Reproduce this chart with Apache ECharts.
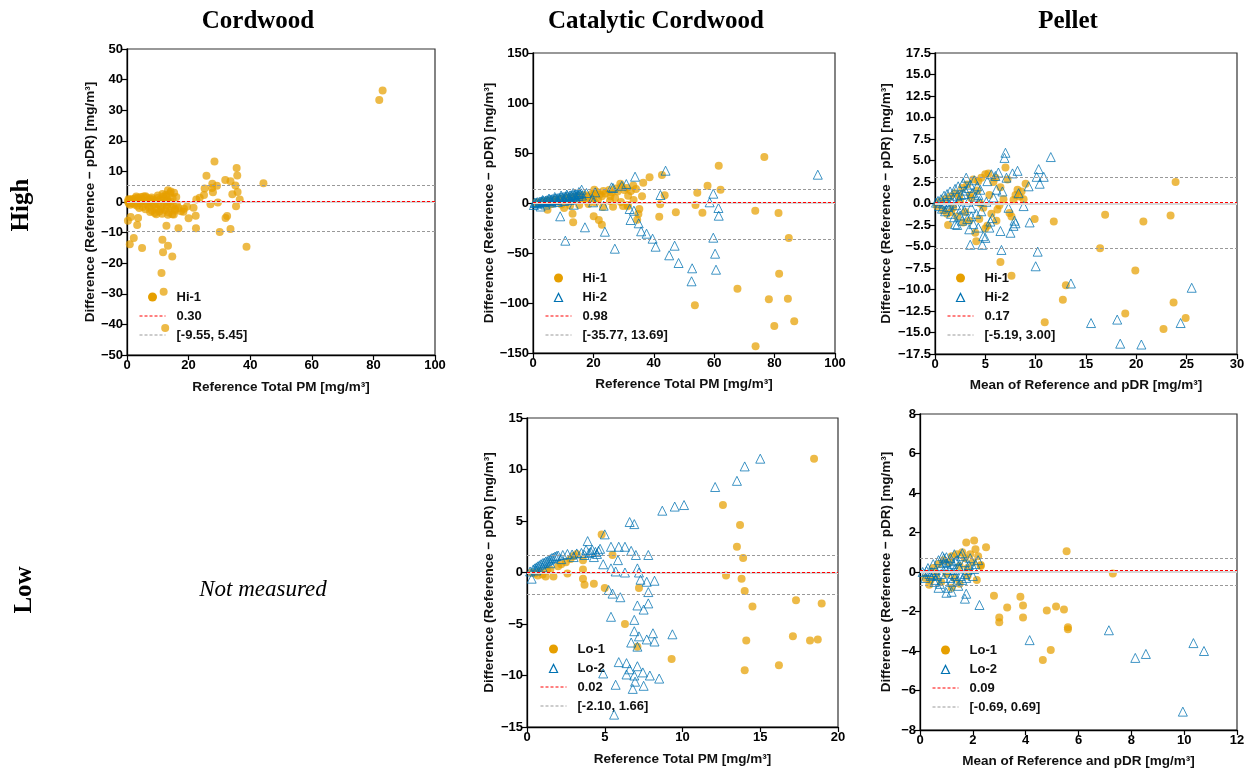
<!DOCTYPE html>
<html>
<head>
<meta charset="utf-8">
<script src="https://cdn.jsdelivr.net/npm/echarts@6/dist/echarts.min.js"></script>
<style>
  html, body { margin: 0; padding: 0; background: #fff; }
  #chart { width: 1252px; height: 772px; }
</style>
</head>
<body>
<div id="chart"></div>
<script>
// column / row titles
const colTitles = ["Cordwood", "Catalytic Cordwood", "Pellet"];
const rowTitles = ["High", "Low"];

// [x, difference] pairs
const cordHighHi1 = [
  [83.0, 36.4], [81.9, 33.3], [44.3, 6.1], [28.4, 13.2], [35.6, 11.1], [35.8, 8.7], [25.8, 8.6],
  [31.9, 7.2], [33.6, 6.8], [35.2, 5.4], [27.7, 6.0], [29.2, 5.3], [27.6, 4.6], [25.2, 4.4],
  [27.9, 3.2], [35.9, 3.3], [34.2, 2.5], [36.6, 0.8], [25.0, 2.3], [23.6, 1.4], [22.5, 0.8],
  [27.1, -0.7], [29.5, -0.2], [35.4, -1.4], [32.5, -4.6], [32.0, -5.2], [33.6, -8.8], [30.1, -9.8],
  [38.8, -14.6], [22.3, -4.5], [22.4, -8.6], [20.0, -5.3], [19.5, -1.5], [21.6, -1.9], [18.3, -3.2],
  [16.7, -8.6], [13.3, -0.1], [14.7, -4.0], [12.8, 1.9], [14.2, 3.4], [13.3, 3.8], [15.3, 3.0],
  [16.0, 1.6], [15.6, -2.3], [14.9, -1.1], [13.3, -4.2], [12.8, -7.8], [13.3, -14.3], [11.5, -12.3],
  [11.7, -16.4], [14.7, -17.8], [11.2, -23.2], [11.9, -29.3], [12.4, -41.2], [0.3, -6.1], [1.2, -4.9],
  [0.9, -13.8], [2.2, -11.8], [3.6, -5.2], [3.3, -7.5], [4.9, -15.0],
  [0.3, 0.2], [0.6, -0.5], [0.9, 0.8], [1.2, 0.4], [1.5, -0.2], [1.8, 1.0], [2.1, 0.6], [2.4, -0.8],
  [2.7, 1.2], [3.0, 0.3], [3.3, -1.2], [3.6, 1.4], [3.9, 0.7], [4.2, -0.4], [4.5, 1.6], [4.8, 0.9],
  [5.1, -1.6], [5.4, 1.8], [5.7, 0.2], [6.0, -2.4], [6.3, 1.5], [6.6, -0.9], [6.9, 0.6], [7.2, -1.8],
  [7.5, 1.1], [7.8, -0.3], [8.1, -2.9], [8.4, 0.8], [8.7, -1.1], [9.0, -3.6], [9.3, 0.4], [9.6, -2.2],
  [9.9, 1.3], [10.2, -0.7], [10.5, -3.1], [10.8, 0.9], [11.1, -1.5], [11.4, -3.8], [11.7, 1.7],
  [12.0, -0.2], [12.3, -2.6], [12.6, 2.4], [12.9, -1.0], [13.2, 0.5], [13.6, -3.4], [14.0, 2.8],
  [14.4, -1.9], [14.8, 1.2], [15.2, -4.1], [15.6, -2.8], [16.2, -0.8], [16.8, -2.0], [17.5, -3.0],
  [18.5, -2.2], [2.0, -0.3], [3.0, 1.8], [4.0, -2.0], [5.0, 0.4], [6.0, 1.9], [7.0, 0.1], [8.0, 1.5],
  [9.0, -0.6], [10.0, 2.1], [11.0, -2.4], [12.0, 1.0], [13.0, -1.8], [14.0, 0.2], [1.0, -0.9],
  [0.5, 0.9], [7.5, -3.3], [9.5, -4.0], [11.5, 2.6]
];

const catHighHi1 = [
  [76.6, 46.0], [61.5, 37.3], [62.1, 13.3], [57.8, 17.3], [54.4, 10.3], [56.1, -9.7], [53.8, -2.0],
  [53.6, -102.3], [47.3, -9.3], [42.7, 28.0], [43.6, 7.7], [42.1, -1.3], [41.8, -13.7], [38.6, 25.7],
  [36.5, 20.3], [36.1, 6.7], [34.9, -11.0], [34.5, -16.7], [31.5, 7.3], [28.9, 19.3], [31.3, -3.3],
  [29.8, -3.0], [26.5, -3.7], [25.6, 6.7], [22.8, 6.7], [21.8, -17.0], [22.8, -21.7], [20.1, -13.3],
  [20.3, 13.3], [15.5, 6.7], [13.3, -19.3], [13.1, -10.7], [10.3, -5.0], [4.8, -6.7], [73.6, -7.7],
  [81.3, -10.0], [84.7, -35.0], [81.5, -70.7], [67.7, -85.7], [78.1, -96.3], [84.4, -95.7],
  [79.9, -123.0], [86.5, -118.3], [73.7, -143.3],
  [1.1, 0.3], [2.2, 1.0], [3.1, 0.5], [4.2, 1.8], [5.0, 2.5], [6.1, 1.2], [7.3, 3.5], [8.0, 2.0],
  [9.2, 4.2], [10.1, 3.0], [11.3, 5.5], [12.0, 4.0], [13.4, 6.2], [14.1, 5.0], [15.2, 7.0],
  [16.3, 3.8], [17.1, 8.0], [18.2, 6.5], [19.4, 9.0], [20.0, 7.5], [21.2, 11.0], [22.1, 8.5],
  [23.3, 12.0], [24.0, 9.5], [25.2, 13.0], [26.1, 10.5], [27.4, 14.5], [28.0, 11.5], [29.3, 16.5],
  [30.2, 13.0], [31.1, 15.0], [32.4, 12.0], [33.2, 17.5], [34.1, 14.0], [15.3, -2.0], [18.4, -1.0],
  [20.6, 0.5], [23.2, -4.0], [25.5, 2.0], [12.3, -2.5], [9.4, -1.5], [6.3, -1.0], [27.2, 5.0],
  [29.1, 1.0], [31.4, -2.0], [33.3, 3.0], [35.2, -6.0], [17.5, 2.5], [19.8, 4.5], [21.5, 3.0]
];

const catHighHi2 = [
  [94.3, 28.3], [43.9, 32.3], [33.8, 26.3], [30.9, 19.0], [29.4, 17.3], [26.0, 15.7], [26.5, 15.0],
  [16.1, 13.3], [17.7, 10.0], [20.6, 10.7], [42.2, 8.0], [59.7, 9.3], [58.5, 0.7], [61.4, -5.0],
  [61.5, -12.7], [59.7, -34.7], [60.3, -50.7], [60.6, -66.7], [52.7, -65.3], [52.5, -78.3],
  [48.2, -60.0], [45.1, -52.3], [46.9, -42.7], [40.6, -43.7], [39.6, -35.7], [37.6, -30.7],
  [35.8, -28.3], [35.0, -20.3], [33.4, -7.7], [32.0, -6.0], [32.3, -17.0], [27.1, -45.7],
  [23.8, -28.7], [23.4, -2.7], [17.2, -24.3], [10.7, -37.7], [9.0, -13.3], [13.5, -1.7],
  [19.7, 4.0], [19.9, 0.7],
  [0.3, -2.0], [0.5, 0.2], [1.0, 0.5], [1.4, 0.9], [2.1, 1.2], [2.6, 1.5], [3.0, 1.8], [3.4, 2.1],
  [4.1, 2.4], [4.5, 2.7], [5.0, 3.1], [5.6, 3.3], [6.0, 3.6], [6.4, 3.9], [7.1, 4.2], [7.5, 4.6],
  [8.0, 4.8], [8.6, 5.1], [9.1, 5.4], [9.5, 5.8], [10.0, 6.0], [10.6, 6.3], [11.0, 6.7], [11.4, 6.9],
  [12.1, 7.2], [12.5, 7.6], [13.0, 7.8], [13.6, 8.1], [14.0, 8.5], [14.4, 8.7], [15.1, 9.0],
  [15.5, 9.4], [16.0, 9.6], [1.1, -0.5], [2.0, -0.3], [3.1, 0.5], [4.0, 0.9], [5.1, 1.5], [6.1, 2.0],
  [7.0, 2.6], [8.1, 3.1], [9.0, 3.6], [10.1, 4.2], [11.1, 4.7], [12.0, 5.3], [13.1, 5.8], [14.1, 6.4],
  [15.0, 7.0], [16.2, 7.5], [2.5, -3.5], [4.1, -1.5], [6.2, 0.5], [8.2, 1.0], [10.3, 2.0], [12.2, 3.0],
  [14.2, 4.0], [3.2, 3.0], [5.3, 4.5], [7.2, 6.0], [9.3, 7.5], [11.2, 8.5], [13.3, 10.0], [15.2, 11.0]
];

const pelHighHi1 = [
  [23.9, 2.5], [16.9, -1.3], [20.7, -2.1], [23.4, -1.4], [16.4, -5.2], [19.9, -7.8], [13.0, -9.5],
  [12.7, -11.2], [10.9, -13.8], [18.9, -12.8], [23.7, -11.5], [24.9, -13.3], [22.7, -14.6],
  [9.9, -1.8], [11.8, -2.1], [7.6, -8.4], [6.5, -6.8],
  [0.2, -0.3], [0.5, 0.2], [0.8, -0.8], [1.0, 0.5], [1.2, -1.2], [1.3, -2.5], [1.5, 0.8], [1.8, -0.5],
  [2.0, 1.2], [2.2, -1.5], [2.5, 0.3], [2.7, 1.8], [3.0, -1.0], [3.2, 2.2], [3.4, -2.0], [3.6, 0.6],
  [3.8, 2.8], [4.0, -3.4], [4.1, -4.4], [4.2, 1.5], [4.4, -1.8], [4.6, 3.0], [4.8, -0.5], [5.0, 3.4],
  [5.0, -2.9], [5.2, -2.6], [5.4, 1.0], [5.6, -1.2], [5.8, 2.5], [6.0, 3.0], [6.2, -0.7], [6.5, 1.9],
  [6.8, 0.5], [7.0, 4.2], [7.2, 2.8], [7.4, -1.1], [7.6, -1.5], [7.8, 0.4], [8.0, 1.0], [8.2, 1.6],
  [8.4, 0.8], [8.6, 1.4], [8.8, 0.5], [9.0, 2.3], [2.8, -2.2], [3.5, 1.0], [4.5, 0.0], [6.1, -2.0],
  [1.6, -1.0], [2.4, 0.9], [5.3, 3.5], [4.3, 2.6], [6.4, -0.2]
];

const pelHighHi2 = [
  [10.0, -7.3], [10.2, -5.6], [11.5, 5.4], [10.3, 4.0], [10.8, 3.1], [10.4, 2.3], [10.1, 3.1],
  [9.3, 2.0], [9.4, -2.2], [13.5, -9.3], [15.5, -13.9], [18.1, -13.5], [18.4, -16.3], [20.5, -16.4],
  [25.5, -9.8], [24.4, -13.9],
  [0.1, 0.1], [0.3, 0.3], [0.4, -0.3], [0.6, 0.5], [0.7, -0.6], [0.9, 0.9], [1.0, -0.9], [1.2, 1.1],
  [1.3, -0.4], [1.5, 1.4], [1.6, -1.2], [1.8, 0.6], [1.9, -1.6], [2.0, 1.7], [2.1, -0.2], [2.2, -2.5],
  [2.3, 2.0], [2.4, 0.4], [2.5, -1.4], [2.6, 1.0], [2.7, -2.0], [2.8, 2.4], [2.9, -0.8], [3.0, 1.5],
  [3.1, 3.0], [3.2, -1.8], [3.3, 0.2], [3.4, -3.0], [3.5, 2.2], [3.6, -0.5], [3.7, 1.2], [3.8, -2.4],
  [3.9, 2.7], [4.0, 0.8], [4.1, -1.2], [4.2, 2.0], [4.3, -2.8], [4.4, 0.3], [4.5, 1.6], [4.6, -0.9],
  [4.7, -4.8], [4.8, -3.8], [5.0, -4.0], [5.2, 2.6], [5.4, -2.8], [5.5, -2.1], [5.6, 3.4], [5.8, 0.7],
  [6.0, 3.2], [6.1, 1.6], [6.3, 3.6], [6.5, -3.2], [6.6, -5.4], [6.7, 1.4], [6.9, 5.3], [7.0, 5.9],
  [7.1, 3.0], [7.3, -0.5], [7.5, -3.4], [7.7, 3.5], [7.8, -2.6], [7.9, -2.0], [8.0, -2.3], [8.2, 3.8],
  [8.3, 1.2], [8.8, -0.3], [3.5, -4.8], [2.0, -2.4], [1.1, 0.2], [1.7, 0.1], [2.6, -0.6], [3.3, 1.8],
  [0.8, 0.0], [1.4, -0.1], [2.2, 0.9], [2.9, 1.1], [3.6, -1.5], [4.3, 1.0], [5.1, 0.2], [5.7, -1.7]
];

const catLowLo1 = [
  [18.46, 11.05], [12.6, 6.55], [13.7, 4.6], [13.5, 2.5], [13.9, 1.4], [12.8, -0.3], [13.8, -0.6],
  [14.0, -1.8], [14.5, -3.3], [17.3, -2.7], [18.95, -3.0], [14.1, -6.6], [17.1, -6.2], [18.2, -6.6],
  [18.7, -6.5], [14.0, -9.5], [16.2, -9.0], [9.3, -8.4], [7.1, -7.2], [7.2, -1.5], [6.3, -5.0],
  [5.0, -1.5], [4.8, 3.7], [5.5, 1.7], [4.3, -1.1], [3.7, -1.2], [3.6, -0.6], [3.6, 0.3], [3.6, 1.2],
  [3.2, 1.8], [2.6, -0.1], [1.7, -0.4], [1.2, -0.4],
  [0.3, 0.0], [0.5, -0.1], [0.8, 0.1], [1.0, -0.2], [1.5, 0.3], [2.0, 0.6], [2.5, 1.0], [2.8, 1.3],
  [3.0, 1.6], [0.7, -0.3], [1.3, 0.2], [2.2, 0.8]
];

const catLowLo2 = [
  [15.0, 11.05], [14.0, 10.3], [13.5, 8.9], [12.1, 8.3], [10.1, 6.55], [9.5, 6.4], [8.7, 6.0],
  [6.6, 4.9], [6.9, 4.7], [5.0, 3.7], [3.9, 3.05], [5.9, 2.5], [6.3, 2.5], [5.4, 2.5], [6.7, 2.1],
  [7.8, 1.7], [7.0, 1.7], [5.85, 1.2], [4.9, 0.8], [5.4, 0.4], [7.1, 0.4], [5.7, 0.1], [6.3, 0.0],
  [7.2, 0.0], [8.2, -0.8], [7.3, -0.7], [7.7, -0.9], [7.8, -1.9], [5.25, -1.7], [5.5, -2.05],
  [6.0, -2.4], [7.1, -3.2], [7.8, -3.0], [7.5, -3.6], [5.4, -4.3], [6.9, -4.6], [6.9, -5.7],
  [7.2, -6.2], [6.7, -6.8], [8.1, -5.9], [8.2, -6.7], [7.7, -6.5], [9.35, -6.0], [7.1, -7.2],
  [5.9, -8.7], [6.4, -8.8], [6.6, -9.4], [4.9, -9.8], [6.4, -9.9], [7.1, -9.1], [6.9, -10.0],
  [7.45, -9.7], [7.9, -10.0], [8.5, -10.3], [6.95, -10.6], [7.5, -11.0], [5.7, -10.9], [6.8, -11.3],
  [5.6, -13.8], [4.1, 2.0], [4.5, 1.8], [3.8, 2.2], [4.3, 1.5], [4.6, 2.1], [4.0, 1.9],
  [0.2, 0.1], [0.3, -0.6], [0.4, 0.3], [0.5, 0.4], [0.6, 0.5], [0.7, 0.6], [0.8, 0.7], [0.9, 0.8],
  [1.0, 0.9], [1.1, 0.95], [1.2, 1.05], [1.3, 1.1], [1.4, 1.2], [1.5, 1.3], [1.6, 1.4], [1.7, 1.45],
  [1.8, 1.55], [1.9, 1.6], [2.0, 1.65], [2.3, 1.7], [2.6, 1.8], [2.9, 1.75], [3.2, 1.85], [3.5, 1.9],
  [3.7, 1.7], [4.2, 2.2], [4.4, 2.0], [4.7, 2.3], [3.0, 1.5], [1.0, 0.5], [0.6, 0.2], [1.5, 0.9],
  [2.2, 1.3]
];

const pelLowLo1 = [
  [5.55, 1.05], [7.3, -0.07], [2.8, -1.2], [3.0, -2.3], [3.0, -2.55], [3.3, -1.8], [3.8, -1.25],
  [3.9, -1.7], [3.9, -2.3], [4.8, -1.95], [5.15, -1.75], [5.45, -1.9], [5.6, -2.8], [5.6, -2.9],
  [4.95, -3.95], [4.65, -4.45], [2.5, 1.25], [2.05, 1.6], [1.75, 1.5], [2.1, 1.15], [2.3, 0.35],
  [2.15, -0.4],
  [0.2, -0.3], [0.35, -0.65], [0.4, -0.4], [0.5, 0.2], [0.6, -0.2], [0.7, 0.4], [0.8, -0.5],
  [0.9, 0.6], [1.0, -0.1], [1.1, 0.5], [1.2, 0.8], [1.3, -0.3], [1.4, 0.9], [1.5, 0.3], [1.6, 1.0],
  [1.7, 0.7], [1.8, 0.2], [1.9, 0.9], [2.0, 0.5], [2.2, 0.8], [2.3, 0.3], [1.2, -0.8], [1.5, -0.6],
  [1.8, -0.2]
];

const pelLowLo2 = [
  [7.15, -2.95], [4.15, -3.45], [2.25, -1.67], [1.7, -1.35], [1.75, -1.1], [8.15, -4.35],
  [8.55, -4.15], [10.35, -3.6], [10.75, -4.0], [9.95, -7.07],
  [0.1, 0.0], [0.2, -0.3], [0.3, 0.2], [0.4, -0.2], [0.5, 0.4], [0.55, -0.5], [0.6, 0.1], [0.7, 0.6],
  [0.75, -0.6], [0.8, 0.3], [0.85, 0.8], [0.9, -0.3], [1.0, 0.5], [1.05, -0.8], [1.1, 0.1],
  [1.15, 0.7], [1.2, -0.5], [1.25, 0.4], [1.3, 0.9], [1.35, -0.2], [1.4, 0.6], [1.45, -0.7],
  [1.5, 0.2], [1.55, 0.8], [1.6, -0.4], [1.7, 0.5], [1.8, 0.1], [1.9, 0.7], [2.0, -0.2], [2.1, 0.4],
  [2.2, 0.6], [1.0, -1.05], [1.2, -1.0], [0.7, -0.8], [0.9, 0.7], [1.6, 0.95], [0.45, 0.0],
  [0.65, -0.2], [0.95, 0.2], [1.25, -0.1], [1.45, 0.3], [1.75, -0.3], [0.35, -0.1], [0.6, -0.4],
  [0.8, -0.1], [1.05, 0.3], [1.3, 0.1], [1.55, -0.2], [1.85, 0.35], [2.05, 0.15], [0.5, -0.15],
  [0.9, 0.45], [1.15, -0.3], [1.4, -0.45], [1.7, -0.1], [0.25, 0.05], [1.0, 0.75], [1.35, 0.55]
];

// mean bias and limits of agreement [lower, mean, upper]
const cordHighStats = [-9.55, 0.30, 5.45];
const catHighStats = [-35.77, 0.98, 13.69];
const pelHighStats = [-5.19, 0.17, 3.00];
const catLowStats = [-2.10, 0.02, 1.66];
const pelLowStats = [-0.69, 0.09, 0.69];

// axis ranges [min, max, interval]
const cordHighX = [0, 100, 20], cordHighY = [-50, 50, 10];
const catHighX = [0, 100, 20], catHighY = [-150, 150, 50];
const pelHighX = [0, 30, 5], pelHighY = [-17.5, 17.5, 2.5];
const catLowX = [0, 20, 5], catLowY = [-15, 15, 5];
const pelLowX = [0, 12, 2], pelLowY = [-8, 8, 2];

const xNameRef = "Reference Total PM [mg/m³]";
const xNameMean = "Mean of Reference and pDR [mg/m³]";
const yName = "Difference (Reference − pDR) [mg/m³]";

const ORANGE = "#E69F00";
const BLUE = "#0072B2";
const SANS = "Liberation Sans, Arial, sans-serif";
const SERIF = "Liberation Serif, DejaVu Serif, serif";
// hollow triangle for the legend, padded so it keeps its shape in a 26x9 box
const TRI_ICON = "path://M0,0L0,0M26,10L26,10M8.5,10L13,1L17.5,10Z";

const panels = [
  { grid: { left: 127, top: 49, width: 308, height: 306 }, x: cordHighX, y: cordHighY, xName: xNameRef,
    yGap: 29, xGap: 25, dec: 0, groups: [["Hi-1", cordHighHi1]], stats: cordHighStats, legend: [139, 290] },
  { grid: { left: 533, top: 53, width: 302, height: 300 }, x: catHighX, y: catHighY, xName: xNameRef,
    yGap: 36, xGap: 24, dec: 0, groups: [["Hi-1", catHighHi1], ["Hi-2", catHighHi2]], stats: catHighStats, legend: [545, 271] },
  { grid: { left: 935, top: 53, width: 302, height: 301 }, x: pelHighX, y: pelHighY, xName: xNameMean,
    yGap: 42, xGap: 24, dec: 1, groups: [["Hi-1", pelHighHi1], ["Hi-2", pelHighHi2]], stats: pelHighStats, legend: [947, 271] },
  { grid: { left: 527, top: 418, width: 311, height: 309 }, x: catLowX, y: catLowY, xName: xNameRef,
    yGap: 31, xGap: 25, dec: 0, groups: [["Lo-1", catLowLo1], ["Lo-2", catLowLo2]], stats: catLowStats, legend: [540, 642] },
  { grid: { left: 920, top: 414, width: 317, height: 316 }, x: pelLowX, y: pelLowY, xName: xNameMean,
    yGap: 27, xGap: 24, dec: 0, groups: [["Lo-1", pelLowLo1], ["Lo-2", pelLowLo2]], stats: pelLowStats, legend: [932, 643] }
];

function tick(dec) {
  return function (v) { return v.toFixed(dec).replace("-", "−"); };
}

const grids = [], xAxes = [], yAxes = [], series = [], legends = [];

panels.forEach(function (p, i) {
  grids.push(Object.assign({ show: true, borderColor: "#333", borderWidth: 1.2, backgroundColor: "#fff" }, p.grid));
  const axisCommon = {
    gridIndex: i,
    nameLocation: "middle",
    nameTextStyle: { fontFamily: SANS, fontWeight: "bold", fontSize: 13.5, color: "#111" },
    axisLine: { show: true, onZero: false, lineStyle: { color: "#000", width: 1.3 } },
    axisTick: { show: true, inside: false, length: 5, lineStyle: { color: "#000", width: 1.2 } },
    axisLabel: { fontFamily: SANS, fontWeight: "bold", fontSize: 13, color: "#000", margin: 4 },
    splitLine: { show: false }
  };
  xAxes.push(Object.assign({}, axisCommon, {
    type: "value", min: p.x[0], max: p.x[1], interval: p.x[2], name: p.xName, nameGap: p.xGap,
    axisLabel: Object.assign({}, axisCommon.axisLabel, { formatter: tick(0) })
  }));
  yAxes.push(Object.assign({}, axisCommon, {
    type: "value", min: p.y[0], max: p.y[1], interval: p.y[2], name: yName, nameGap: p.yGap, nameRotate: 90,
    axisLabel: Object.assign({}, axisCommon.axisLabel, { formatter: tick(p.dec) })
  }));

  const names = [];
  p.groups.forEach(function (g, k) {
    const tri = k === 1;
    names.push(tri
      ? { name: g[0], icon: TRI_ICON, itemStyle: { color: "rgba(255,255,255,0)", borderColor: BLUE, borderWidth: 1.2, opacity: 1 } }
      : { name: g[0], itemStyle: { opacity: 1 } });
    series.push({
      name: g[0], type: "scatter", xAxisIndex: i, yAxisIndex: i, data: g[1],
      symbol: tri ? "triangle" : "circle",
      symbolSize: tri ? 9 : 8,
      itemStyle: tri
        ? { color: "rgba(255,255,255,0)", borderColor: BLUE, borderWidth: 1, opacity: 0.75 }
        : { color: ORANGE, opacity: 0.72 },
      z: 3 + k,
      markLine: k === 0 ? {
        silent: true, symbol: ["none", "none"], label: { show: false },
        lineStyle: { color: "#d8d8d8", type: "solid", width: 2 },
        data: [{ yAxis: 0 }]
      } : undefined
    });
  });

  const meanName = p.stats[1].toFixed(2);
  const limName = "[" + p.stats[0].toFixed(2) + ", " + p.stats[2].toFixed(2) + "]";
  series.push({
    name: meanName, type: "line", xAxisIndex: i, yAxisIndex: i, data: [], symbol: "none", z: 6,
    itemStyle: { color: "#ff0000", opacity: 0 },
    lineStyle: { color: "#ff0000", type: [3, 2], width: 1 },
    markLine: { silent: true, symbol: ["none", "none"], label: { show: false },
      lineStyle: { color: "#ff0000", type: [3, 2], width: 1, opacity: 1 }, data: [{ yAxis: p.stats[1] }] }
  });
  series.push({
    name: limName, type: "line", xAxisIndex: i, yAxisIndex: i, data: [], symbol: "none", z: 6,
    itemStyle: { color: "#999", opacity: 0 },
    lineStyle: { color: "#999", type: [3, 2], width: 1 },
    markLine: { silent: true, symbol: ["none", "none"], label: { show: false },
      lineStyle: { color: "#999", type: [3, 2], width: 1, opacity: 1 }, data: [{ yAxis: p.stats[0] }, { yAxis: p.stats[2] }] }
  });
  names.push(
    { name: meanName, itemStyle: { opacity: 0 }, lineStyle: { color: "#ff0000", type: [3, 2], width: 1 } },
    { name: limName, itemStyle: { opacity: 0 }, lineStyle: { color: "#999", type: [3, 2], width: 1 } }
  );

  legends.push({
    orient: "vertical", left: p.legend[0], top: p.legend[1], padding: 0,
    itemWidth: 26, itemHeight: 9, itemGap: 5, selectedMode: false, symbolKeepAspect: true,
    textStyle: { fontFamily: SANS, fontWeight: "bold", fontSize: 13, color: "#111", lineHeight: 14, padding: [0, 0, 0, 6] },
    data: names
  });
});

const graphics = [
  { type: "text", x: 258, y: 22, style: { text: colTitles[0], font: "bold 25px " + SERIF, fill: "#000", textAlign: "center", textVerticalAlign: "middle" } },
  { type: "text", x: 656, y: 22, style: { text: colTitles[1], font: "bold 25px " + SERIF, fill: "#000", textAlign: "center", textVerticalAlign: "middle" } },
  { type: "text", x: 1068, y: 22, style: { text: colTitles[2], font: "bold 25px " + SERIF, fill: "#000", textAlign: "center", textVerticalAlign: "middle" } },
  { type: "text", x: 22, y: 205, rotation: Math.PI / 2, style: { text: rowTitles[0], font: "bold 25px " + SERIF, fill: "#000", textAlign: "center", textVerticalAlign: "middle" } },
  { type: "text", x: 25, y: 590, rotation: Math.PI / 2, style: { text: rowTitles[1], font: "bold 25px " + SERIF, fill: "#000", textAlign: "center", textVerticalAlign: "middle" } },
  { type: "text", x: 263, y: 590, style: { text: "Not measured", font: "italic 23px " + SERIF, fill: "#000", textAlign: "center", textVerticalAlign: "middle" } }
];

const chart = echarts.init(document.getElementById("chart"), null, { renderer: "canvas" });
chart.setOption({
  animation: false,
  backgroundColor: "#fff",
  grid: grids,
  xAxis: xAxes,
  yAxis: yAxes,
  legend: legends,
  series: series,
  graphic: graphics
});
</script>
</body>
</html>
